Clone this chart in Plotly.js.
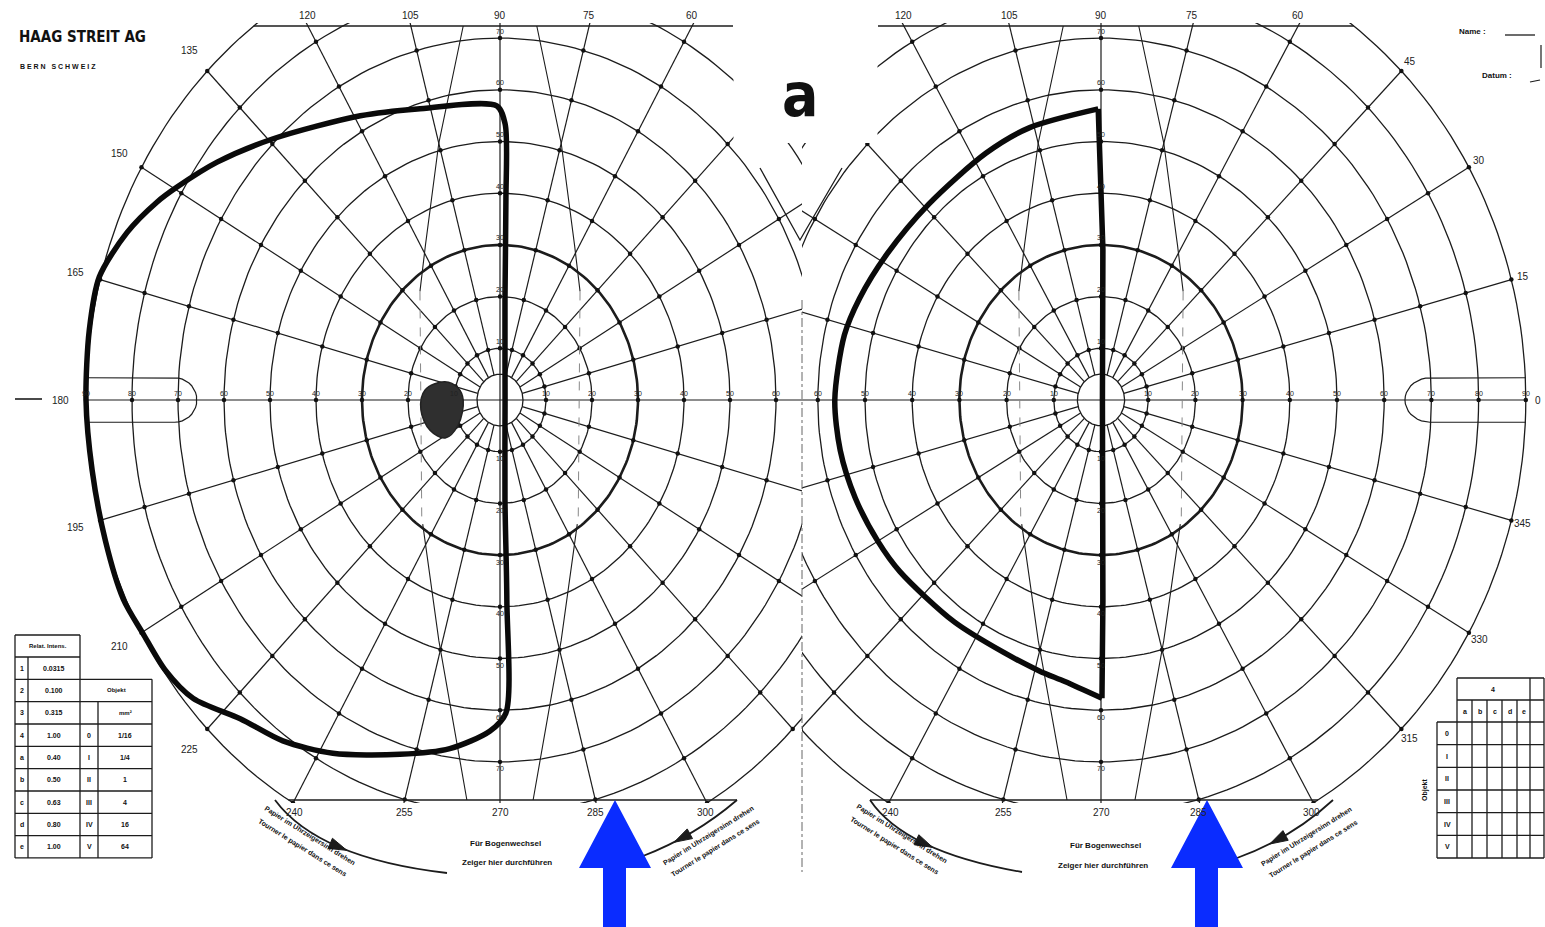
<!DOCTYPE html>
<html>
<head>
<meta charset="utf-8">
<script src="https://cdn.plot.ly/plotly-3.0.1.min.js"></script>
<style>
html,body{margin:0;padding:0;background:#ffffff;}
#chart{width:1545px;height:927px;}
</style>
</head>
<body>
<div id="chart"></div>
<script>
// ================= DATA =================
const ringDegrees = [10, 20, 30, 40, 50, 60, 70, 80, 90];
const boldRingDegree = 30;
const innerRingDegree = 5;
const meridianDegrees = [0,15,30,45,60,75,90,105,120,135,150,165,180,195,210,225,240,255,270,285,300,315,330,345];
const meridianLabels = ['0','15','30','45','60','75','90','105','120','135','150','165','180','195','210','225','240','255','270','285','300','315','330','345'];
const ringLabels = ['10','20','30','40','50','60','70','80','90'];

// Left eye isopter: meridian (deg) / eccentricity (deg)
const leftIsopterMeridian = [90.7,107.7,118.9,134.3,143.2,149.6,152.8,158.2,164.7,171.4,180,188.7,197.6,205.2,210.2,215.6,220.9,227.5,234.4,242.0,252.4,260.8,268.0,271.2,272.2,273.2,0,86.8,88.1,88.8,90.7];
const leftIsopterEcc      = [56.9,59.1,62.8,70.6,76.8,81.4,83.8,87.3,90.3,90.3,90.0,89.7,90.0,90.5,89.8,89.6,88.2,83.6,81.1,77.4,71.9,68.3,64.1,60.6,38.8,19.4,1.1,19.4,38.8,53.4,56.9];

// Right eye isopter (curved temporal border, then straight border on the vertical meridian)
const rightIsopterMeridian = [90.6,106.0,117.0,134.0,148.0,159.0,167.0,180,190,200,210,218,234,247,256,262,270.2,270.6,0,89.2,90.6];
const rightIsopterEcc      = [56.3,54.8,53.6,52.6,53.4,54.8,55.8,56.4,56.1,55.4,54.6,54.0,53.0,53.0,54.0,55.0,57.7,38.8,0.3,29.1,56.3];

// Blind spot (left chart)
const blindSpotMeridian = [163.7,165.7,180,208.0,211.7,201.0,186.4,173.2,163.7];
const blindSpotEcc      = [12.5,9.4,8.0,10.3,14.0,16.3,17.3,16.4,12.5];

// Stimulus tables
const intensityKeys   = ['1','2','3','4','a','b','c','d','e'];
const intensityValues = ['0.0315','0.100','0.315','1.00','0.40','0.50','0.63','0.80','1.00'];
const objectKeys  = ['0','I','II','III','IV','V'];
const objectAreas = ['1/16','1/4','1','4','16','64'];
const filterColumns = ['a','b','c','d','e'];

// ================= FORM / LAYOUT CONSTANTS =================
const W = 1545, H = 927, CY = 400, SY = 5.17, TOP = 26, BOT = 800, PAD = 3, MID = 802;
const INK = '#1c1c1c';
const FONT = 'Liberation Sans, Arial, sans-serif';
const YTOP = (CY - TOP) / SY, YBOT = (CY - BOT) / SY;
const charts = {
  L: {cx: 500, sx: 4.6, xa: 'x', ya: 'y', pxL: 0, pxR: MID, labR: 95.5, cutTop: 733, cutBot: 737, side: -1},
  R: {cx: 1101, sx: 4.72, xa: 'x2', ya: 'y2', pxL: MID, pxR: W, labR: 92.5, cutTop: 878, cutBot: 870, side: 1}
};
const rad = d => d * Math.PI / 180;
const pc = (t, r) => [r * Math.cos(rad(t)), r * Math.sin(rad(t))];

function lineTrace(xs, ys, c, width, extra) {
  return Object.assign({type: 'scatter', mode: 'lines', x: xs, y: ys, xaxis: c.xa, yaxis: c.ya,
    hoverinfo: 'skip', line: {color: INK, width: width}}, extra || {});
}
function ringsXY(radii) {
  const xs = [], ys = [];
  radii.forEach(r => { for (let a = 0; a <= 360; a += 1.5) { const p = pc(a, r); xs.push(p[0]); ys.push(p[1]); } xs.push(null); ys.push(null); });
  return [xs, ys];
}

const traces = [], annotations = [], shapes = [];

function buildChart(key) {
  const c = charts[key];
  const thin = ringDegrees.filter(r => r !== boldRingDegree).concat([innerRingDegree]);
  let [xs, ys] = ringsXY(thin);
  traces.push(lineTrace(xs, ys, c, 1.3));
  [xs, ys] = ringsXY([boldRingDegree]);
  traces.push(lineTrace(xs, ys, c, 2.6));
  const mx = [], my = [];
  meridianDegrees.forEach(t => {
    const r0 = (t % 90 === 0) ? 0 : innerRingDegree;
    const a = pc(t, r0), b = pc(t, 90);
    mx.push(a[0], b[0], null); my.push(a[1], b[1], null);
  });
  traces.push(lineTrace(mx, my, c, 1.2));
  const dx = [], dy = [];
  ringDegrees.forEach(r => meridianDegrees.forEach(t => { const p = pc(t, r); dx.push(p[0]); dy.push(p[1]); }));
  traces.push({type: 'scatter', mode: 'markers', x: dx, y: dy, xaxis: c.xa, yaxis: c.ya, hoverinfo: 'skip',
    marker: {size: 4.5, color: '#111'}});
  const xr = Math.sqrt(8100 - YTOP * YTOP), xrb = Math.sqrt(8100 - YBOT * YBOT);
  const cutT = (c.cutTop - c.cx) / c.sx, cutB = (c.cutBot - c.cx) / c.sx;
  if (key === 'L') {
    traces.push(lineTrace([-xr, cutT, null, -xrb, cutB], [YTOP, YTOP, null, YBOT, YBOT], c, 1.3));
  } else {
    traces.push(lineTrace([cutT, xr, null, cutB, xrb], [YTOP, YTOP, null, YBOT, YBOT], c, 1.3));
  }
  const s = c.side, straightEnd = key === 'L' ? 70.7 : 69.7, rx = key === 'L' ? 4.8 : 5.3, ry = 4.3;
  const cxs = [s * 90, s * straightEnd], cys = [ry, ry];
  for (let u = 90; u >= -90; u -= 10) { cxs.push(s * straightEnd - s * rx * Math.cos(rad(u))); cys.push(ry * Math.sin(rad(u))); }
  cxs.push(s * 90); cys.push(-ry);
  traces.push(lineTrace(cxs, cys, c, 1.2));
  [-1, 1].forEach(sg => {
    traces.push(lineTrace([8.0, 13.3, 16.2, 17.4].map(v => v * sg), [YTOP, 49.7, 30, 21], c, 1.1));
    traces.push(lineTrace([16.8, 15.2, 13.3, 7.2].map(v => v * sg), [-24, -34, -46.5, YBOT], c, 1.1));
    traces.push(lineTrace([17.4 * sg, 17.0 * sg], [21, -24], c, 1, {line: {color: '#888', width: 1, dash: 'dash'}}));
  });
  meridianDegrees.forEach((t, i) => {
    const cs = Math.cos(rad(t)), sn = Math.sin(rad(t));
    if (key === 'L' ? cs > 0.51 : cs < -0.51) return;
    let x, y, yshift = 0;
    if (90 * sn > YTOP) { y = YTOP; x = YTOP * cs / sn; yshift = 11; }
    else if (90 * sn < YBOT) { y = YBOT; x = YBOT * cs / sn; yshift = -12; }
    else { [x, y] = pc(t, c.labR); }
    annotations.push({xref: c.xa, yref: c.ya, x: x, y: y, yshift: yshift, text: meridianLabels[i], showarrow: false,
      font: {family: FONT, size: 10, color: '#222'}});
  });
  const xmin = (c.pxL - c.cx) / c.sx, xmax = (c.pxR - c.cx) / c.sx;
  ringDegrees.forEach((r, i) => {
    [r, -r].forEach(x => {
      if (x > xmin + 3 && x < xmax - 3) annotations.push({xref: c.xa, yref: c.ya, x: x, y: 0, yshift: 7, text: ringLabels[i], showarrow: false,
        font: {family: FONT, size: 7, color: '#222'}});
    });
    [r, -r].forEach(y => {
      if (y < YTOP - 2 && y > YBOT + 2) annotations.push({xref: c.xa, yref: c.ya, x: 0, y: y, yshift: y > 0 ? 7 : -7, text: ringLabels[i], showarrow: false,
        font: {family: FONT, size: 7, color: '#222'}});
    });
  });
}
buildChart('L');
buildChart('R');

// blind spot
(function () {
  const c = charts.L, xs = [], ys = [];
  blindSpotMeridian.forEach((t, i) => { const p = pc(t, blindSpotEcc[i]); xs.push(p[0]); ys.push(p[1]); });
  traces.push({type: 'scatter', mode: 'lines', x: xs, y: ys, xaxis: c.xa, yaxis: c.ya, fill: 'toself', fillcolor: '#2f2f2f',
    hoverinfo: 'skip', line: {color: '#222', width: 1.5, shape: 'spline', smoothing: 1}});
})();

// isopters
function isopter(c, th, ec, shape, i0, i1) {
  const xs = [], ys = [];
  for (let i = i0; i <= i1; i++) { const p = pc(th[i], ec[i]); xs.push(p[0]); ys.push(p[1]); }
  traces.push({type: 'scatter', mode: 'lines', x: xs, y: ys, xaxis: c.xa, yaxis: c.ya, hoverinfo: 'skip',
    line: {color: '#0a0a0a', width: 5.5, shape: shape, smoothing: 0.8}});
}
isopter(charts.L, leftIsopterMeridian, leftIsopterEcc, 'spline', 0, leftIsopterMeridian.length - 1);
isopter(charts.R, rightIsopterMeridian, rightIsopterEcc, 'spline', 0, 16);
isopter(charts.R, rightIsopterMeridian, rightIsopterEcc, 'linear', 16, rightIsopterMeridian.length - 1);

// ================= PAPER DECORATIONS =================
const fx = x => x / W, fy = y => 1 - y / H;
const pp = (x, y) => fx(x).toFixed(5) + ',' + fy(y).toFixed(5);
function pline(x0, y0, x1, y1, w, color, dash) {
  shapes.push({type: 'line', xref: 'paper', yref: 'paper', x0: fx(x0), y0: fy(y0), x1: fx(x1), y1: fy(y1),
    line: {color: color || INK, width: w || 1.3, dash: dash || 'solid'}, layer: 'above'});
}
function ppath(pts, fill, w, color) {
  const d = 'M ' + pts.map(p => pp(p[0], p[1])).join(' L ') + (fill ? ' Z' : '');
  shapes.push({type: 'path', xref: 'paper', yref: 'paper', path: d, layer: 'above',
    fillcolor: fill || 'rgba(0,0,0,0)', line: {color: color || INK, width: w === undefined ? 1.3 : w}});
}
function txt(x, y, text, size, opts) {
  annotations.push(Object.assign({xref: 'paper', yref: 'paper', x: fx(x), y: fy(y), text: text, showarrow: false,
    xanchor: 'center', yanchor: 'middle', font: {family: FONT, size: size, color: '#111'}}, opts || {}));
}

// white gap between the two forms at the top
shapes.push({type: 'rect', xref: 'paper', yref: 'paper', x0: fx(733.5), x1: fx(877.5), y0: fy(143), y1: fy(0),
  fillcolor: '#ffffff', line: {width: 0}, layer: 'above'});
ppath([[760, 168], [800, 240], [842, 168]], null, 1.3);
pline(802, 300, 802, 872, 1, '#666', 'dashdot');
pline(15, 399, 42, 399, 1.6);

// curved arrows (continuation of the outer circles)
function quad(a, c, b, t) { return [(1-t)*(1-t)*a[0] + 2*(1-t)*t*c[0] + t*t*b[0], (1-t)*(1-t)*a[1] + 2*(1-t)*t*c[1] + t*t*b[1]]; }
function dquad(a, c, b, t) { return [2*(1-t)*(c[0]-a[0]) + 2*t*(b[0]-c[0]), 2*(1-t)*(c[1]-a[1]) + 2*t*(b[1]-c[1])]; }
function curvedArrow(a, c, b, t) {
  shapes.push({type: 'path', xref: 'paper', yref: 'paper', layer: 'above',
    path: 'M ' + pp(a[0], a[1]) + ' Q ' + pp(c[0], c[1]) + ' ' + pp(b[0], b[1]), line: {color: INK, width: 1.8}});
  const p = quad(a, c, b, t), d = dquad(a, c, b, t), L = Math.hypot(d[0], d[1]);
  const u = [d[0] / L, d[1] / L], n = [-u[1], u[0]];
  const tip = [p[0] + 8 * u[0], p[1] + 8 * u[1]], bc = [tip[0] - 18 * u[0], tip[1] - 18 * u[1]];
  ppath([tip, [bc[0] + 5.5 * n[0], bc[1] + 5.5 * n[1]], [bc[0] - 5.5 * n[0], bc[1] - 5.5 * n[1]]], INK, 1);
}
curvedArrow([275, 800], [318, 858], [447, 873], 0.5);
curvedArrow([737, 800], [695, 836], [643, 856], 0.62);
curvedArrow([870, 800], [905, 852], [1022, 872], 0.5);
curvedArrow([1333, 800], [1292, 838], [1237, 858], 0.62);

function rotPair(mx, my, ang) {
  const a = rad(ang), n = [-Math.sin(a), Math.cos(a)];
  txt(mx - 7 * n[0], my - 7 * n[1], '<b>Papier im Uhrzeigersinn drehen</b>', 7, {textangle: ang});
  txt(mx + 7 * n[0], my + 7 * n[1], '<b>Tourner le papier dans ce sens</b>', 7, {textangle: ang});
}
rotPair(306, 842, 32);
rotPair(712, 842, -32);
rotPair(898, 840, 32);
rotPair(1310, 843, -32);

txt(505, 843, '<b>Für Bogenwechsel</b>', 8);
txt(507, 862, '<b>Zeiger hier durchführen</b>', 8);
txt(1105, 845, '<b>Für Bogenwechsel</b>', 8);
txt(1103, 865, '<b>Zeiger hier durchführen</b>', 8);

// blue arrows
ppath([[615, 800], [651, 868], [626, 868], [626, 927], [603, 927], [603, 868], [579, 868]], '#0a2cff', 0, '#0a2cff');
ppath([[1207, 800], [1243, 868], [1218, 868], [1218, 927], [1195, 927], [1195, 868], [1171, 868]], '#0a2cff', 0, '#0a2cff');

// logo + header texts
txt(17, 37, '<b>HAAG STREIT AG</b>', 15, {xanchor: 'left', font: {family: 'DejaVu Sans Condensed, Liberation Sans Narrow, Arial Narrow', size: 15, color: '#111'}});
txt(18, 66, '<b>B E R N   S C H W E I Z</b>', 7, {xanchor: 'left'});
txt(800, 95, '<b>a</b>', 60, {font: {family: 'DejaVu Sans Condensed, Liberation Sans', size: 60, color: '#111'}});
txt(1472, 32, '<b>Name :</b>', 8);
pline(1505, 35, 1535, 35, 1.3);
txt(1497, 75, '<b>Datum :</b>', 8);
pline(1541, 45, 1541, 68, 1.2);
pline(1530, 82, 1540, 80, 1.2);

// ---- left stimulus table ----
const rowA = k => 657 + k * 22.33;
pline(15, 635, 80, 635); pline(15, 635, 15, 858); pline(80, 635, 80, 858); pline(28, 657, 28, 858);
for (let k = 0; k <= 9; k++) pline(15, rowA(k), 80, rowA(k));
txt(47.5, 646, '<b>Relat. Intens.</b>', 6);
intensityKeys.forEach((kk, i) => { const y = rowA(i + 0.5); txt(21.5, y, '<b>' + kk + '</b>', 7); txt(54, y, '<b>' + intensityValues[i] + '</b>', 7); });
pline(80, rowA(1), 152, rowA(1)); pline(152, rowA(1), 152, 858); pline(98, rowA(2), 98, 858);
for (let k = 2; k <= 9; k++) pline(80, rowA(k), 152, rowA(k));
txt(116, rowA(1.5), '<b>Objekt</b>', 6);
txt(125, rowA(2.5), '<b>mm²</b>', 6);
objectKeys.forEach((kk, j) => { const y = rowA(3 + j + 0.5); txt(89, y, '<b>' + kk + '</b>', 7); txt(125, y, '<b>' + objectAreas[j] + '</b>', 7); });

// ---- right check table ----
const colsR = [1437, 1457, 1472, 1487, 1502, 1517, 1530, 1544];
const rowR = k => 722 + k * 22.67;
pline(1457, 678, 1544, 678); pline(1457, 700, 1544, 700);
for (let k = 0; k <= 6; k++) pline(1437, rowR(k), 1544, rowR(k));
pline(1437, 722, 1437, 858); pline(1457, 678, 1457, 858); pline(1530, 678, 1530, 858); pline(1544, 678, 1544, 858);
[1472, 1487, 1502, 1517].forEach(x => pline(x, 700, x, 858));
txt(1493, 689, '<b>4</b>', 7);
filterColumns.forEach((f, i) => txt((colsR[i + 1] + colsR[i + 2]) / 2, 711, '<b>' + f + '</b>', 7));
objectKeys.forEach((kk, j) => txt(1447, rowR(j + 0.5), '<b>' + kk + '</b>', 7));
txt(1425, 790, '<b>Objekt</b>', 7, {textangle: -90});

// ================= LAYOUT =================
const yDomain = [1 - (BOT + PAD) / H, 1 - (TOP - PAD) / H];
const yRange = [(CY - BOT - PAD) / SY, (CY - TOP + PAD) / SY];
const layout = {
  width: W, height: H, margin: {l: 0, r: 0, t: 0, b: 0, pad: 0},
  paper_bgcolor: '#ffffff', plot_bgcolor: 'rgba(0,0,0,0)', showlegend: false,
  xaxis: {domain: [0, MID / W], range: [(0 - charts.L.cx) / charts.L.sx, (MID - charts.L.cx) / charts.L.sx], visible: false, anchor: 'y', fixedrange: true},
  yaxis: {domain: yDomain, range: yRange, visible: false, anchor: 'x', fixedrange: true},
  xaxis2: {domain: [MID / W, 1], range: [(MID - charts.R.cx) / charts.R.sx, (W - charts.R.cx) / charts.R.sx], visible: false, anchor: 'y2', fixedrange: true},
  yaxis2: {domain: yDomain, range: yRange, visible: false, anchor: 'x2', fixedrange: true},
  shapes: shapes, annotations: annotations
};
Plotly.newPlot('chart', traces, layout, {displayModeBar: false, staticPlot: true});
</script>
</body>
</html>
